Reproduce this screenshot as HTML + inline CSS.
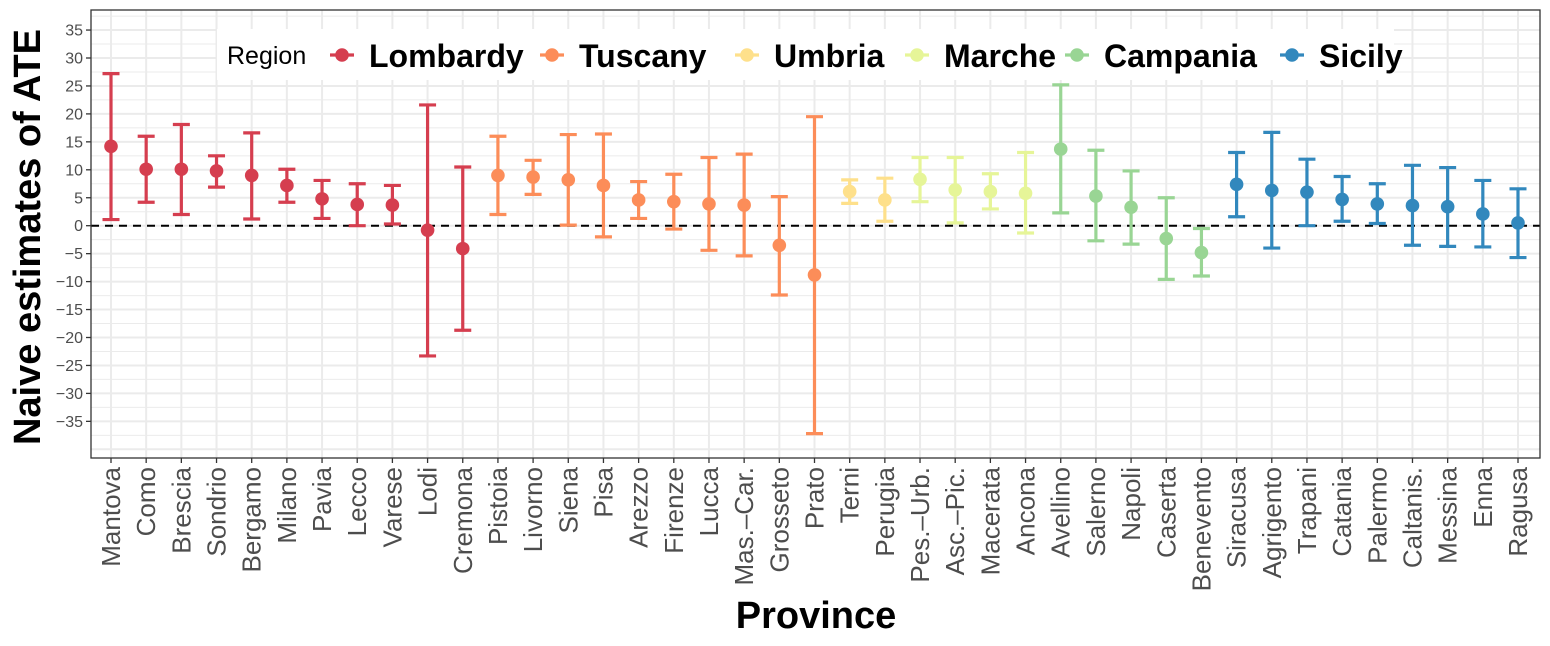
<!DOCTYPE html>
<html><head><meta charset="utf-8">
<style>
html,body{margin:0;padding:0;background:#fff;}
svg{display:block;font-family:"Liberation Sans",Arial,sans-serif;}
</style></head>
<body>
<svg id="chart" width="1550" height="646" viewBox="0 0 1550 646" xmlns="http://www.w3.org/2000/svg">
<g id="grid"></g>
<g id="marks"></g>
<g id="axes"></g>
<g id="legend"></g>
<text x="816" y="628" text-anchor="middle" font-size="38" font-weight="bold">Province</text>
<text transform="translate(40,237) rotate(-90)" text-anchor="middle" font-size="38" font-weight="bold">Naive estimates of ATE</text>
</svg>
<script>
const provinces=["Mantova","Como","Brescia","Sondrio","Bergamo","Milano","Pavia","Lecco","Varese","Lodi","Cremona","Pistoia","Livorno","Siena","Pisa","Arezzo","Firenze","Lucca","Mas.\u2013Car.","Grosseto","Prato","Terni","Perugia","Pes.\u2013Urb.","Asc.\u2013Pic.","Macerata","Ancona","Avellino","Salerno","Napoli","Caserta","Benevento","Siracusa","Agrigento","Trapani","Catania","Palermo","Caltanis.","Messina","Enna","Ragusa"];
const regionOf=[0,0,0,0,0,0,0,0,0,0,0,1,1,1,1,1,1,1,1,1,1,2,2,3,3,3,3,4,4,4,4,4,5,5,5,5,5,5,5,5,5];
const estimate=[14.2,10.1,10.1,9.8,9.0,7.2,4.8,3.8,3.7,-0.8,-4.1,9.0,8.7,8.2,7.2,4.6,4.3,3.9,3.7,-3.5,-8.8,6.1,4.6,8.3,6.4,6.1,5.8,13.7,5.3,3.3,-2.3,-4.8,7.4,6.3,6.0,4.7,3.9,3.6,3.4,2.1,0.5];
const lower=[1.1,4.2,2.0,6.9,1.2,4.2,1.3,0.0,0.3,-23.3,-18.7,2.0,5.6,0.1,-2.0,1.3,-0.6,-4.4,-5.4,-12.4,-37.2,4.0,0.8,4.3,0.5,3.0,-1.3,2.3,-2.7,-3.3,-9.6,-9.0,1.6,-4.0,0.0,0.8,0.4,-3.5,-3.7,-3.8,-5.7];
const upper=[27.2,16.0,18.1,12.5,16.6,10.1,8.1,7.5,7.2,21.6,10.5,16.0,11.7,16.3,16.4,7.9,9.2,12.2,12.8,5.2,19.5,8.2,8.5,12.2,12.2,9.3,13.1,25.2,13.5,9.8,5.0,-0.5,13.1,16.7,11.9,8.8,7.5,10.8,10.4,8.1,6.6];
const regions=["Lombardy","Tuscany","Umbria","Marche","Campania","Sicily"];
const colors=["#d53e4f","#fc8d59","#fee08b","#e6f598","#99d594","#3288bd"];
const yTicks=[-35,-30,-25,-20,-15,-10,-5,0,5,10,15,20,25,30,35];

const NS="http://www.w3.org/2000/svg";
const PL=91,PR=1540,PT=10,PB=458;
const Y0=225.7,PX=5.59;
function y(v){return Y0-v*PX;}
function x(i){return 111+i*(1518-111)/(provinces.length-1);}
function mk(tag,attrs,parent){const e=document.createElementNS(NS,tag);for(const k in attrs)e.setAttribute(k,attrs[k]);parent.appendChild(e);return e;}
const grid=document.getElementById('grid'),marks=document.getElementById('marks'),axes=document.getElementById('axes'),legend=document.getElementById('legend');

let bg=mk('rect',{x:PL,y:PT,width:PR-PL,height:PB-PT,fill:'#fff'},grid);


for(let v=-40;v<=37.5;v+=2.5){
  const major=(v%5===0);
  let l=mk('line',{x1:PL,x2:PR,y1:y(v),y2:y(v),stroke:'#ebebeb','stroke-width':major?2:1},grid);
  
  
}
provinces.forEach((p,i)=>{
  let l=mk('line',{x1:x(i),x2:x(i),y1:PT,y2:PB,stroke:'#ebebeb','stroke-width':2},grid);
  
  
});
let zl=mk('line',{x1:PL,x2:PR,y1:y(0),y2:y(0),stroke:'#000','stroke-width':2,'stroke-dasharray':'8,6'},grid);



provinces.forEach((p,i)=>{
  const c=colors[regionOf[i]];
  const g=mk('g',{},marks);
  
  
  mk('line',{x1:x(i),x2:x(i),y1:y(lower[i]),y2:y(upper[i]),stroke:c,'stroke-width':3.2},g);
  mk('line',{x1:x(i)-8.5,x2:x(i)+8.5,y1:y(lower[i]),y2:y(lower[i]),stroke:c,'stroke-width':3.2},g);
  mk('line',{x1:x(i)-8.5,x2:x(i)+8.5,y1:y(upper[i]),y2:y(upper[i]),stroke:c,'stroke-width':3.2},g);
  mk('circle',{cx:x(i),cy:y(estimate[i]),r:6.8,fill:c},g);
});

let fr=mk('rect',{x:PL,y:PT,width:PR-PL,height:PB-PT,fill:'none',stroke:'#333','stroke-width':1.3},axes);


yTicks.forEach(v=>{
  mk('line',{x1:PL-5,x2:PL,y1:y(v),y2:y(v),stroke:'#333','stroke-width':1.3},axes);
  let t=mk('text',{x:PL-8,y:y(v)+5.5,'text-anchor':'end','font-size':16,fill:'#4d4d4d'},axes);
  t.textContent=(v<0?'\u2212'+(-v):''+v);
  
  
});
provinces.forEach((p,i)=>{
  mk('line',{x1:x(i),x2:x(i),y1:PB,y2:PB+5,stroke:'#333','stroke-width':1.3},axes);
  let t=mk('text',{transform:'translate('+(x(i)+9)+','+(PB+9)+') rotate(-90)','text-anchor':'end','font-size':26,fill:'#4d4d4d'},axes);
  t.textContent=p;
  
  
});

let lb=mk('rect',{x:217,y:29,width:1177,height:51,fill:'#fff'},legend);


let lt=mk('text',{x:227,y:64,'font-size':25},legend);
lt.textContent='Region';


const keyX=[330,540,735,905,1065,1280];
regions.forEach((r,k)=>{
  const g=mk('g',{},legend);
  
  
  mk('line',{x1:keyX[k],x2:keyX[k]+24,y1:55,y2:55,stroke:colors[k],'stroke-width':3.2},g);
  mk('circle',{cx:keyX[k]+12,cy:55,r:6.8,fill:colors[k]},g);
  const t=mk('text',{x:keyX[k]+39,y:67,'font-size':32,'font-weight':'bold'},g);
  t.textContent=r;
});
</script>
</body></html>
